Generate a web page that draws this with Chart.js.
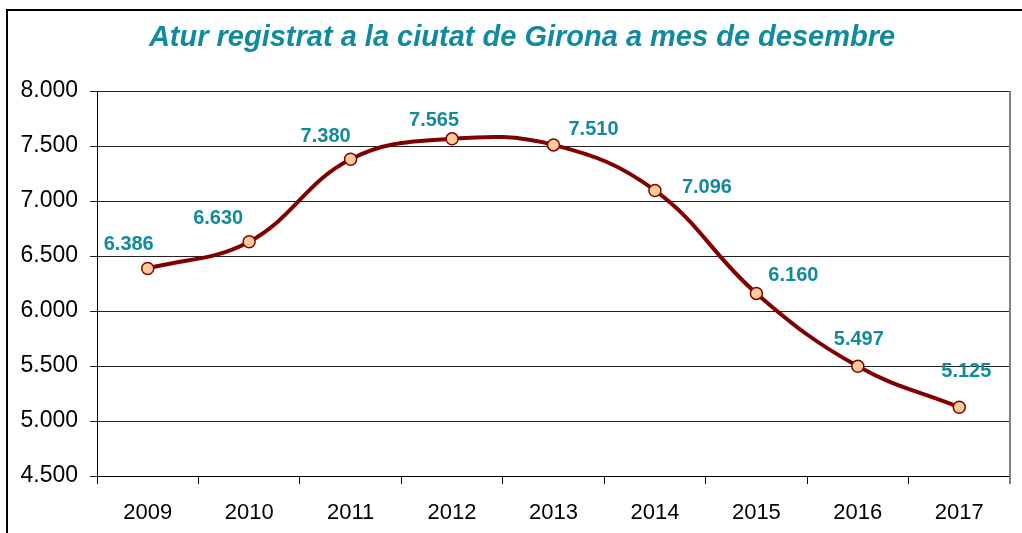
<!DOCTYPE html>
<html>
<head>
<meta charset="utf-8">
<script src="https://cdn.jsdelivr.net/npm/chart.js@4"></script>
<style>
  html, body { margin: 0; padding: 0; background: #fff; overflow: hidden; }
</style>
</head>
<body>
<canvas id="aturChart" width="1022" height="533"></canvas>
<script>
// Atur registrat a Girona (desembre)
const YEARS = ['2009', '2010', '2011', '2012', '2013', '2014', '2015', '2016', '2017'];
const ATUR = [6386, 6630, 7380, 7565, 7510, 7096, 6160, 5497, 5125];
const Y_TICKS = [4500, 5000, 5500, 6000, 6500, 7000, 7500, 8000];

const TEAL = '#128a9e';
const MAROON = '#800000';

// label offsets from each point (dx, dy), same look as the original
const LABEL_OFFSETS = [
    [-19, -24], [-31, -23], [-25, -23], [-18, -18], [40, -15],
    [52, -3], [37, -18], [1, -27], [7, -36]
];

const fmt = v => String(Math.round(v)).replace(/\B(?=(\d{3})+(?!\d))/g, '.');

const framePlugin = {
    id: 'frame',
    beforeDraw(chart) {
        const c = chart.ctx;
        c.save();
        c.fillStyle = '#fff';
        c.fillRect(0, 0, chart.width, chart.height);
        c.strokeStyle = '#000';
        c.lineWidth = 2;
        c.strokeRect(7, 10, chart.width + 20, chart.height + 20);
        // title
        c.fillStyle = TEAL;
        c.font = "italic bold 29px 'Liberation Sans', Arial, sans-serif";
        c.textAlign = 'center';
        c.textBaseline = 'middle';
        c.fillText('Atur registrat a la ciutat de Girona a mes de desembre', 522, 38);
        c.restore();
    },
    afterDraw(chart) {
        const a = chart.chartArea;
        const c = chart.ctx;
        c.save();
        c.strokeStyle = '#808080';
        c.lineWidth = 2;
        c.beginPath();
        c.moveTo(a.right, a.top);
        c.lineTo(a.right, a.bottom + 8);
        c.stroke();
        c.restore();
    }
};

const labelPlugin = {
    id: 'valueLabels',
    afterDatasetsDraw(chart) {
        const meta = chart.getDatasetMeta(0);
        const c = chart.ctx;
        c.save();
        c.fillStyle = TEAL;
        c.font = "bold 20px 'Liberation Sans', Arial, sans-serif";
        c.textAlign = 'center';
        c.textBaseline = 'middle';
        meta.data.forEach((pt, i) => {
            const [dx, dy] = LABEL_OFFSETS[i];
            c.fillText(fmt(ATUR[i]), pt.x + dx, pt.y + dy);
        });
        c.restore();
    }
};

new Chart(document.getElementById('aturChart'), {
    type: 'line',
    data: {
        labels: YEARS,
        datasets: [{
            data: ATUR,
            borderColor: MAROON,
            borderWidth: 4,
            tension: 0.4,
            pointRadius: 6,
            pointBackgroundColor: '#ffcc99',
            pointBorderColor: MAROON,
            pointBorderWidth: 1.5,
            fill: false
        }]
    },
    options: {
        responsive: false,
        animation: false,
        layout: { padding: { top: 91, right: 12, left: 0, bottom: 0 } },
        plugins: {
            legend: { display: false },
            title: { display: false },
            tooltip: { enabled: false }
        },
        scales: {
            x: {
                offset: true,
                grid: {
                    offset: true,
                    drawOnChartArea: false,
                    drawTicks: true,
                    tickLength: 8,
                    color: '#000'
                },
                border: { color: '#000', width: 1 },
                ticks: {
                    color: '#000',
                    padding: 16,
                    maxRotation: 0,
                    font: { family: "'Liberation Sans', Arial, sans-serif", size: 22 }
                },
                afterFit: s => { s.height = 57; }
            },
            y: {
                min: 4500,
                max: 8000,
                afterBuildTicks: s => { s.ticks = Y_TICKS.map(v => ({ value: v })); },
                grid: {
                    color: '#222',
                    lineWidth: 1,
                    drawTicks: true,
                    tickLength: 7
                },
                border: { color: '#000', width: 1 },
                ticks: {
                    color: '#000',
                    padding: 12,
                    callback: v => fmt(v),
                    font: { family: "'Liberation Sans', Arial, sans-serif", size: 23 }
                },
                afterFit: s => { s.width = 97; }
            }
        }
    },
    plugins: [framePlugin, labelPlugin]
});
</script>
</body>
</html>
